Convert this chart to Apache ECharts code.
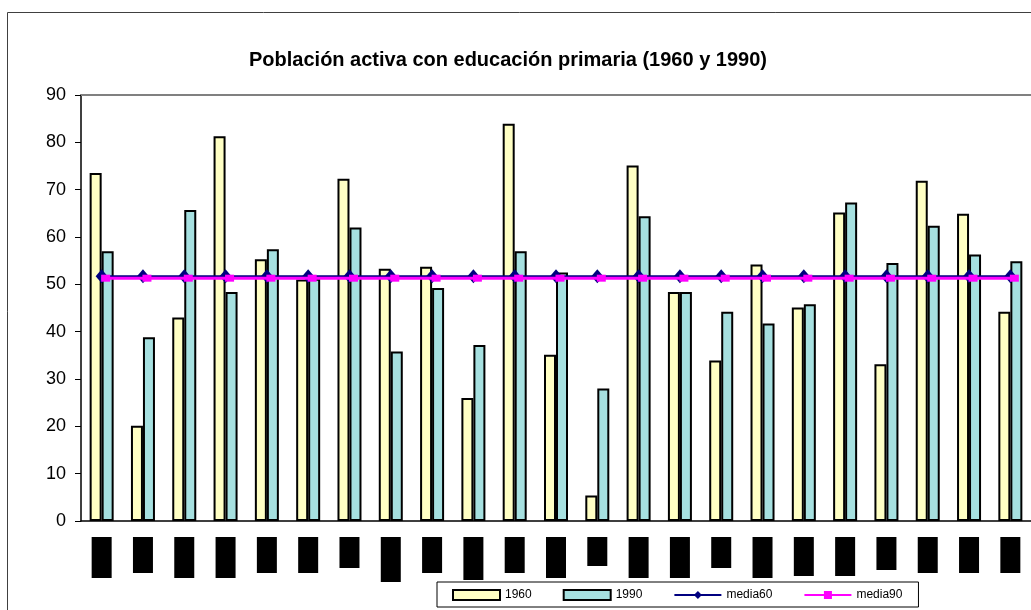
<!DOCTYPE html>
<html>
<head>
<meta charset="utf-8">
<script src="https://cdn.jsdelivr.net/npm/echarts@6/dist/echarts.min.js"></script>
<style>
  html, body { margin: 0; padding: 0; background: #fff; }
  #chart { width: 1031px; height: 610px; }
</style>
</head>
<body>
<div id="chart"></div>
<script>
// categories (the original labels are blacked out)
const categories = ['1','2','3','4','5','6','7','8','9','10','11','12','13','14','15','16','17','18','19','20','21','22','23']
const y1960 = [73.5, 20.1, 43.0, 81.3, 55.3, 51.0, 72.3, 53.3, 53.7, 26.0, 83.9, 35.1, 5.4, 75.1, 48.4, 33.9, 54.2, 45.1, 65.2, 33.1, 71.9, 64.9, 44.2]
const y1990 = [57.0, 38.8, 65.7, 48.4, 57.4, 51.2, 62.0, 35.8, 49.2, 37.2, 57.0, 52.5, 28.0, 64.4, 48.4, 44.2, 41.7, 45.8, 67.3, 54.5, 62.4, 56.3, 54.9]
const media60 = [51.7, 51.7, 51.7, 51.7, 51.7, 51.7, 51.7, 51.7, 51.7, 51.7, 51.7, 51.7, 51.7, 51.7, 51.7, 51.7, 51.7, 51.7, 51.7, 51.7, 51.7, 51.7, 51.7]
const media90 = [51.3, 51.3, 51.3, 51.3, 51.3, 51.3, 51.3, 51.3, 51.3, 51.3, 51.3, 51.3, 51.3, 51.3, 51.3, 51.3, 51.3, 51.3, 51.3, 51.3, 51.3, 51.3, 51.3]
const yTicks = { min: 0, max: 90, interval: 10 }

// length of each black label box (style only)
const boxLens = [41, 36, 41, 41, 36, 36, 31, 45, 36, 43, 36, 41, 29, 41, 41, 31, 41, 39, 39, 33, 36, 36, 36]

const font = 'Liberation Sans, Arial, sans-serif'
const rich = {}
boxLens.forEach((len, i) => {
    rich['b' + i] = {
        width: len,
        height: 20,
        lineHeight: 20,
        backgroundColor: '#000',
        color: '#000',
        fontSize: 10
    }
})

const chart = echarts.init(document.getElementById('chart'))
const option = {
    animation: false,
    backgroundColor: '#fff',
    graphic: [{
        type: 'rect',
        shape: { x: 7.5, y: 12.5, width: 1200, height: 800 },
        style: { fill: 'none', stroke: '#404040', lineWidth: 1 },
        silent: true
    }],
    title: {
        text: 'Población activa con educación primaria (1960 y 1990)',
        left: 244,
        top: 45,
        textStyle: { fontFamily: font, fontSize: 20, fontWeight: 'bold', color: '#000' }
    },
    legend: {
        left: 437,
        top: 582,
        padding: [7, 16, 6, 15],
        borderColor: '#000',
        borderWidth: 1,
        itemWidth: 47,
        itemHeight: 10,
        itemGap: 31,
        textStyle: { fontFamily: font, fontSize: 12, color: '#000' },
        data: [
            { name: '1960', icon: 'rect' },
            { name: '1990', icon: 'rect' },
            { name: 'media60' },
            { name: 'media90' }
        ]
    },
    grid: { left: 81, top: 95, width: 954, height: 426, containLabel: false },
    xAxis: [{
        type: 'category',
        data: categories,
        axisLine: { lineStyle: { color: '#000', width: 1.5 } },
        axisTick: { length: 6, lineStyle: { color: '#000' } },
        axisLabel: {
            interval: 0,
            rotate: 90,
            margin: 16,
            formatter: (v, i) => '{b' + i + '|' + v + '}',
            rich
        }
    }, {
        type: 'category',
        position: 'top',
        data: categories,
        axisLine: { lineStyle: { color: '#808080', width: 2 } },
        axisTick: { show: false },
        axisLabel: { show: false }
    }],
    yAxis: {
        type: 'value',
        min: yTicks.min,
        max: yTicks.max,
        interval: yTicks.interval,
        axisLine: { show: true, lineStyle: { color: '#000', width: 1.5 } },
        axisTick: { show: true, length: 6, lineStyle: { color: '#000' } },
        axisLabel: { margin: 15, fontFamily: font, fontSize: 18, color: '#000' },
        splitLine: { show: false }
    },
    series: [
        {
            name: '1960',
            type: 'bar',
            data: y1960,
            barWidth: 12,
            barGap: '0%',
            itemStyle: { color: '#FFFFC4', borderColor: '#000', borderWidth: 2 }
        },
        {
            name: '1990',
            type: 'bar',
            data: y1990,
            barWidth: 12,
            itemStyle: { color: '#A6E0E0', borderColor: '#000', borderWidth: 2 }
        },
        {
            name: 'media60',
            type: 'line',
            data: media60,
            symbol: 'diamond',
            symbolSize: [12, 14],
            lineStyle: { color: '#000080', width: 2 },
            itemStyle: { color: '#000080' },
            z: 3
        },
        {
            name: 'media90',
            type: 'line',
            data: media90,
            symbol: 'rect',
            symbolSize: [9, 7],
            symbolOffset: [4, 0],
            lineStyle: { color: '#FF00FF', width: 3 },
            itemStyle: { color: '#FF00FF' },
            z: 4
        }
    ]
}
chart.setOption(option)
</script>
</body>
</html>
